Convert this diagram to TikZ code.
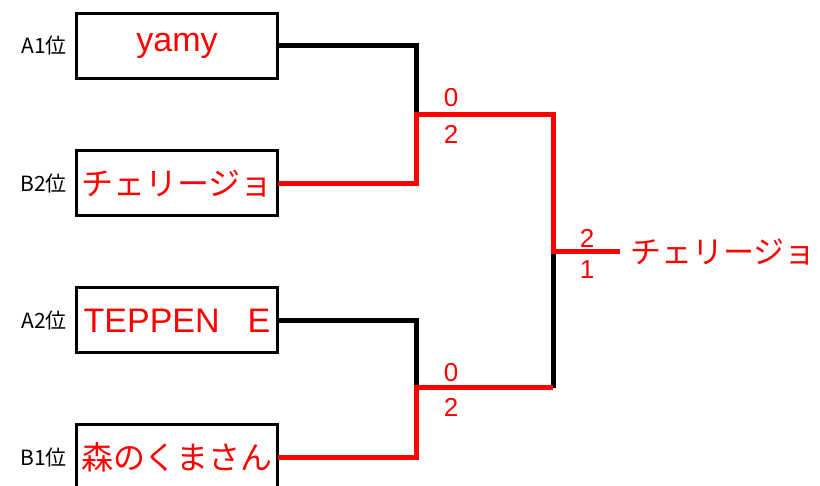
\documentclass[tikz,border=0pt]{standalone}
\usepackage{fontspec}
\setmainfont{Noto Sans CJK JP}
\newfontfamily\latinfont{Liberation Sans}
\begin{document}
\begin{tikzpicture}[x=1pt,y=-1pt,
  team/.style={draw=black,line width=3pt,minimum width=201pt,minimum height=65pt,inner sep=0pt,outer sep=0pt,text=red,font=\fontsize{32}{32}\selectfont},
  latin/.style={font=\fontsize{34}{34}\selectfont\latinfont},
  seed/.style={anchor=east,inner sep=0pt,font=\fontsize{21}{21}\selectfont},
  score/.style={inner sep=0pt,text=red,font=\fontsize{26}{26}\selectfont\latinfont},
  lose/.style={draw=black,line width=5pt},
  win/.style={draw=red,line width=5pt}]
\useasboundingbox (0,0) rectangle (820,486);
\node[team,latin] (b1) at (177,46) {yamy};
\node[team] (b2) at (177,183.5) {チェリージョ};
\node[team,latin] (b3) at (177,320.5) {TEPPEN\hspace{28pt}E};
\node[team] (b4) at (177,457.5) {森のくまさん};
\node[seed] (s1) at (67,46) {A1位};
\node[seed] (s2) at (67,183.5) {B2位};
\node[seed] (s3) at (67,320.5) {A2位};
\node[seed] (s4) at (67,457.5) {B1位};
\coordinate (j1) at (416,115);
\coordinate (j2) at (416,388);
\coordinate (k1) at (553,115);
\coordinate (k2) at (553,388);
\coordinate (f) at (553,252);
\coordinate (w) at (620,252);
\draw[lose] (b1.east) -| (j1);
\draw[lose] (b3.east) -| (j2);
\draw[lose] (k2) -- (f);
\draw[win] (b2.east) -| (j1) -- (k1) -- (f) -- (w);
\draw[win] (b4.east) -| (j2) -- (k2);
\node[score] (t1) at (451,98) {0};
\node[score] (u1) at (451,134) {2};
\node[score] (t2) at (451,373) {0};
\node[score] (u2) at (451,407) {2};
\node[score] (t3) at (587,238) {2};
\node[score] (u3) at (587,270) {1};
\node[anchor=west,inner sep=0pt,text=red,font=\fontsize{31}{31}\selectfont] (champ) at (630,252) {チェリージョ};
\end{tikzpicture}
\end{document}
